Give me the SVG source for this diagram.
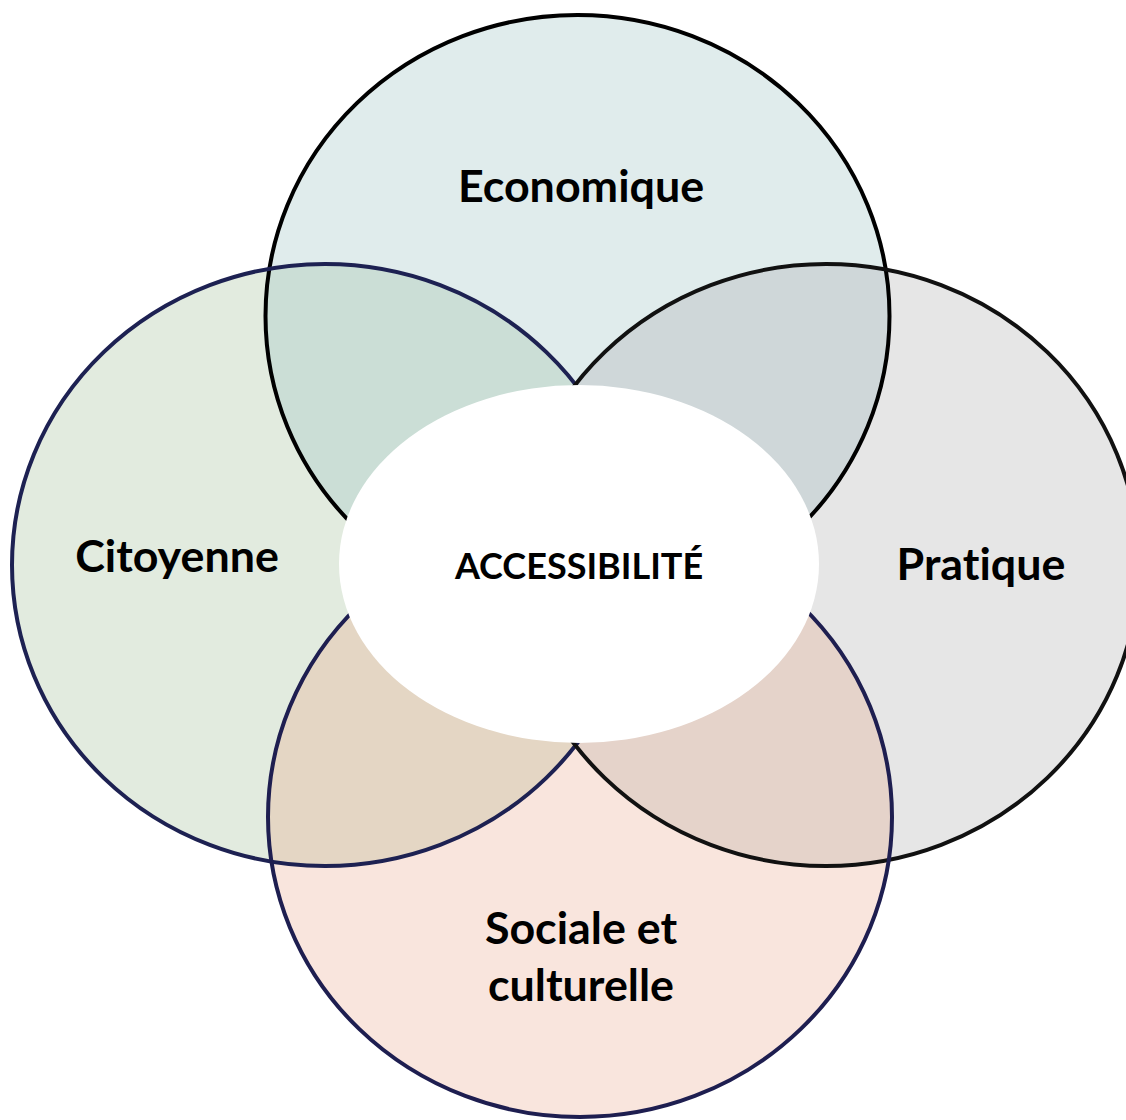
<svg xmlns="http://www.w3.org/2000/svg" width="1126" height="1120" viewBox="0 0 1126 1120">
<style>
.lbl{font-family:Lato,"Open Sans","Liberation Sans",sans-serif;font-weight:bold;font-size:44.8px;fill:#000;text-anchor:middle;font-variant-ligatures:none;font-feature-settings:"liga" 0,"clig" 0}
.ctr{font-size:36px}
.edge{fill:none;stroke-width:4}
</style>
<defs>
<clipPath id="cT"><ellipse cx="577.5" cy="316" rx="312" ry="301"/></clipPath>
<clipPath id="cB"><ellipse cx="580" cy="817" rx="312" ry="300"/></clipPath>
</defs>
<rect width="1126" height="1120" fill="#fff"/>
<g id="fills">
<ellipse cx="577.5" cy="316" rx="312" ry="301" fill="#e0ecec"/>
<ellipse cx="325" cy="565" rx="313" ry="301" fill="#e2ebdf"/>
<ellipse cx="826" cy="565" rx="313" ry="301" fill="#e6e6e6"/>
<ellipse cx="580" cy="817" rx="312" ry="300" fill="#f9e5dd"/>
<g clip-path="url(#cT)">
<ellipse cx="325" cy="565" rx="313" ry="301" fill="#cbded6"/>
<ellipse cx="826" cy="565" rx="313" ry="301" fill="#cfd7d9"/>
</g>
<g clip-path="url(#cB)">
<ellipse cx="325" cy="565" rx="313" ry="301" fill="#e4d6c4"/>
<ellipse cx="826" cy="565" rx="313" ry="301" fill="#e5d3ca"/>
</g>
</g>
<g id="economique">
<ellipse class="edge" cx="577.5" cy="316" rx="312" ry="301" stroke="#000"/>
<text class="lbl" x="581" y="202">Economique</text>
</g>
<g id="citoyenne">
<ellipse class="edge" cx="325" cy="565" rx="313" ry="301" stroke="#1d2152"/>
<text class="lbl" x="177" y="572">Citoyenne</text>
</g>
<g id="pratique">
<ellipse class="edge" cx="826" cy="565" rx="313" ry="301" stroke="#111"/>
<text class="lbl" x="981" y="580">Pratique</text>
</g>
<g id="sociale">
<ellipse class="edge" cx="580" cy="817" rx="312" ry="300" stroke="#1e1e50"/>
<text class="lbl" x="581" y="944">Sociale et</text>
<text class="lbl" x="581" y="1001">culturelle</text>
</g>
<g id="accessibilite">
<ellipse cx="579" cy="564" rx="240" ry="179" fill="#fff"/>
<text class="lbl ctr" x="579" y="579">ACCESSIBILITÉ</text>
</g>
<g id="connectors"/>
</svg>
